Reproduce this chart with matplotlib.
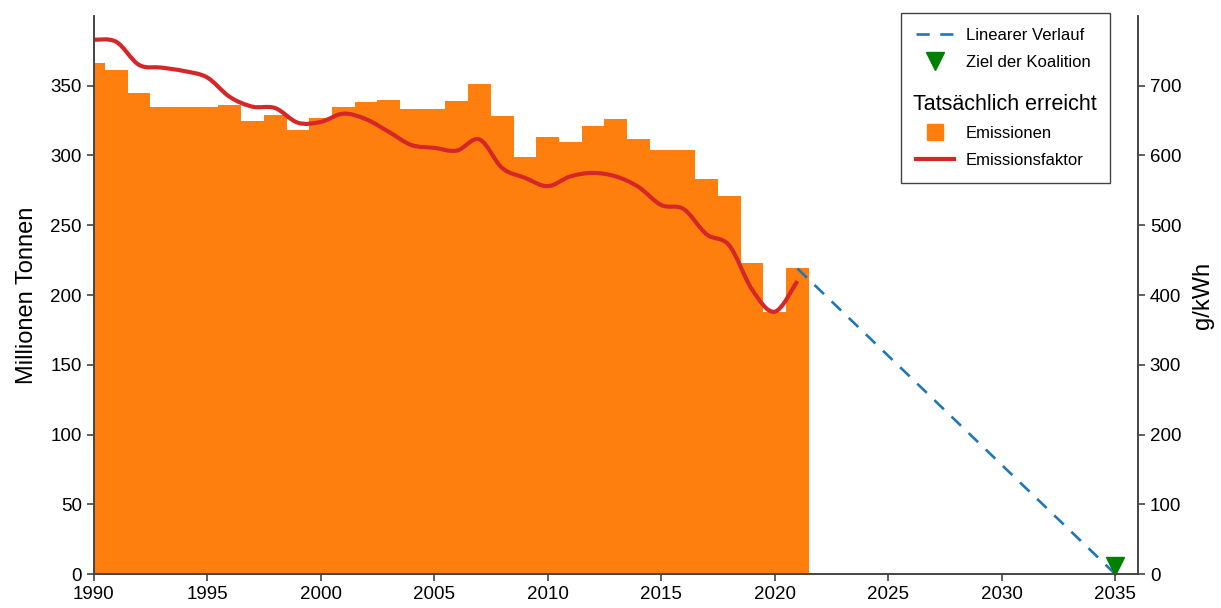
import matplotlib.pyplot as plt
import numpy as np
from matplotlib.path import Path
from matplotlib.patches import PathPatch
from matplotlib.lines import Line2D

plt.rcParams['font.family'] = ['Liberation Sans', 'DejaVu Sans']

# Emissionen (Millionen Tonnen), Balken je Jahr
years = list(range(1990, 2022))
emissions = [366, 361, 345, 335, 335, 335, 336, 325, 329, 318,
             327, 335, 338, 340, 333, 333, 339, 351, 328, 299,
             313, 310, 321, 326, 312, 304, 304, 283, 271, 223,
             188, 219]

# Emissionsfaktor (g/kWh)
factor = [766, 763, 730, 726, 721, 712, 684, 670, 668, 647,
          648, 660, 652, 634, 615, 611, 607, 623, 582, 568,
          556, 570, 575, 570, 555, 529, 523, 487, 471, 408,
          376, 420]

# linearer Verlauf bis zum Ziel
trend_years = [2021, 2035]
trend_values = [219, 0]
target_year = [2035]
target_value = [6]

fig = plt.figure(figsize=(12.21, 6.08), dpi=100)
ax = fig.add_axes([0.0766, 0.0559, 0.8554, 0.9178])
ax2 = ax.twinx()

ax.bar(years, emissions, width=1.0, color='#ff7f0e', linewidth=0, zorder=1)
trend, = ax.plot(trend_years, trend_values, color='#1f77b4', lw=1.9,
                 dashes=(5, 4), zorder=3)
target, = ax.plot(target_year, target_value, linestyle='none', marker='v',
                  color='#008000', markersize=13, zorder=4, clip_on=False)

# glatte Kurve (Catmull-Rom als Bezier) durch die Jahreswerte
pts = np.column_stack([years, factor]).astype(float)
verts = [pts[0]]
codes = [Path.MOVETO]
n = len(pts)
for i in range(n - 1):
    p0 = pts[max(i - 1, 0)]
    p1 = pts[i]
    p2 = pts[i + 1]
    p3 = pts[min(i + 2, n - 1)]
    verts += [p1 + (p2 - p0) / 6, p2 - (p3 - p1) / 6, p2]
    codes += [Path.CURVE4] * 3
curve = PathPatch(Path(verts, codes), facecolor='none', edgecolor='#d62728',
                  lw=3, transform=ax2.transData, capstyle='butt')
ax2.add_patch(curve)

ax.set_xlim(1990, 2036)
ax.set_ylim(0, 400)
ax2.set_ylim(0, 800)
ax.set_xticks(range(1990, 2036, 5))
ax.set_yticks(range(0, 351, 50))
ax2.set_yticks(range(0, 701, 100))

for a in (ax, ax2):
    a.spines['top'].set_visible(False)
    for s in a.spines.values():
        s.set_color('#444444')
        s.set_linewidth(1.2)
    a.tick_params(colors='#444444', labelcolor='black', labelsize=13.5,
                  length=5, width=1.2)

ax.set_ylabel('Millionen Tonnen', fontsize=17, labelpad=9)
ax2.set_ylabel('g/kWh', fontsize=17, labelpad=8)

# Legende
blank = Line2D([], [], linestyle='none')
emis_handle = Line2D([], [], linestyle='none', marker='s', color='#ff7f0e',
                     markersize=12)
fac_handle = Line2D([], [], color='#d62728', lw=3)
leg = ax2.legend([trend, target, blank, emis_handle, fac_handle],
                 ['Linearer Verlauf', 'Ziel der Koalition ', ' ',
                  'Emissionen', 'Emissionsfaktor'],
                 loc='upper right', bbox_to_anchor=(1110 / 1221, 1 - 13 / 608),
                 bbox_transform=fig.transFigure, borderaxespad=0,
                 fontsize=12, handlelength=2.3, handletextpad=0.7,
                 labelspacing=0.7, fancybox=False, framealpha=1,
                 edgecolor='#444444', borderpad=0.9)
leg.get_frame().set_linewidth(1.0)
leg.get_texts()[2].set_fontsize(25)

fig.text(913 / 1221, 1 - 105 / 608, 'Tatsächlich erreicht', fontsize=15.5,
         ha='left', va='center', zorder=10)

fig.savefig('out.png', dpi=100)
